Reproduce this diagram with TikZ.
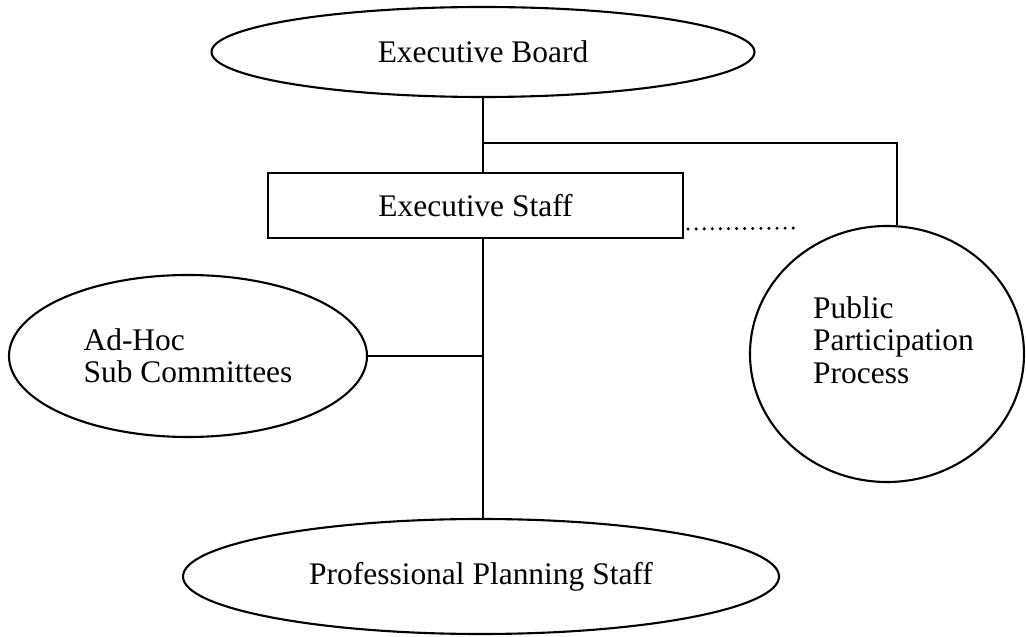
\documentclass[tikz,border=0pt]{standalone}
\usepackage{fontspec}
\setmainfont{Liberation Serif}
\usetikzlibrary{shapes,shapes.geometric,calc}

\begin{document}
\begin{tikzpicture}
	[-,line width=1.2pt,
	every node/.style={font=\fontsize{17.9}{18.4}\selectfont},
	oval/.style={shape=ellipse,draw,line width=1.2pt,inner sep=0pt},
	staffbox/.style={shape=rectangle,draw,line width=1.2pt,inner sep=0pt},
	dotline/.style={line width=1.9pt,line cap=round,dash pattern=on 0pt off 4.6pt}]
	\useasboundingbox (0,0) rectangle (20.52,-12.74);
	
	\node[oval,minimum width=10.86cm,minimum height=1.8cm] (eb) at (9.66,-1.04) {Executive Board};
	\node[staffbox,minimum width=8.3cm,minimum height=1.3cm] (es) at (9.51,-4.11) {Executive Staff};
	\node[oval,minimum width=7.16cm,minimum height=3.24cm,align=left] (ad) at (3.76,-7.12) {Ad-Hoc\\Sub Committees};
	\node[oval,minimum width=5.48cm,minimum height=5.12cm,
		label={[name=pptext,align=left,xshift=0.13cm,yshift=0.28cm]center:Public\\Participation\\Process}] (pp) at (17.74,-7.08) {};
	\node[oval,minimum width=11.92cm,minimum height=2.3cm] (ps) at (9.62,-11.53) {Professional Planning Staff};
	\coordinate (dotend) at (15.98,-4.56);
	
	\path
	\foreach \startNode/\endNode in {eb.south/es.north,es.south/ps.north}
	{
		(eb.south |- \startNode) edge (eb.south |- \endNode)
	};
	\draw (ad.east) -- (ad.east -| eb.south);
	\draw (eb.south |- 0,-2.86) -| ($(pp.north)+(0.2,0)$);
	\draw[dotline] ($(es.south east)+(0.08,0.2)$) -- (dotend);
\end{tikzpicture}
\end{document}
